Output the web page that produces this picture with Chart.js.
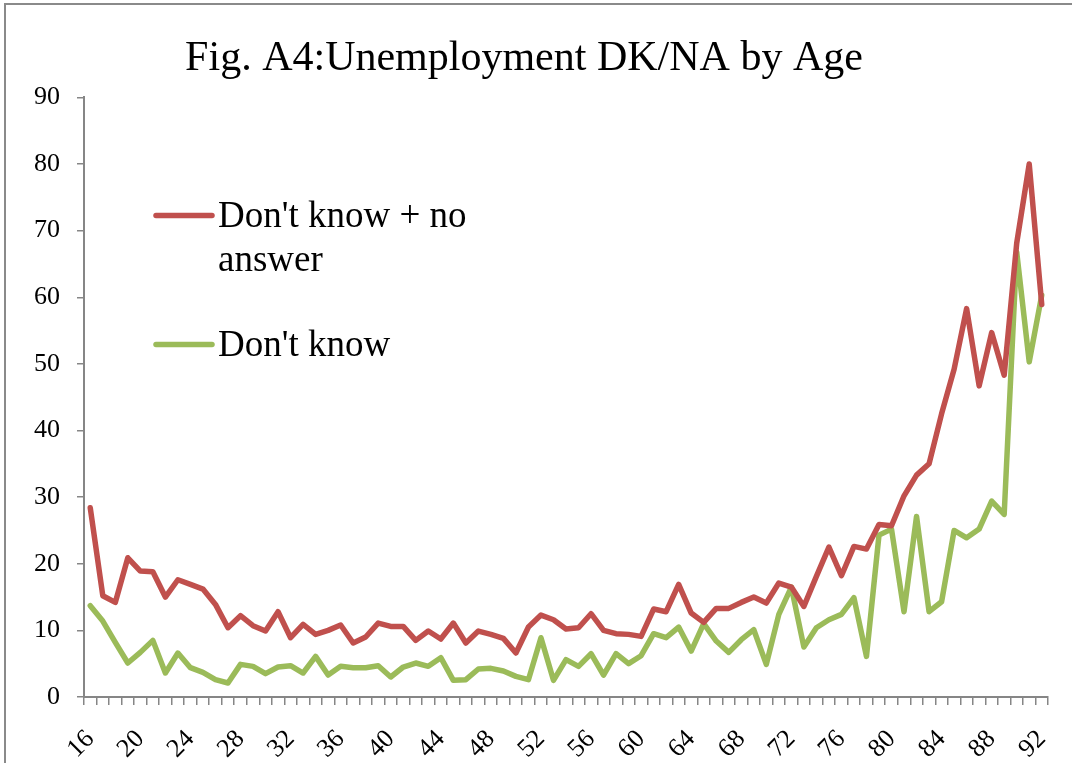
<!DOCTYPE html>
<html>
<head>
<meta charset="utf-8">
<title>Unemployment DK/NA by Age</title>
<script src="https://cdn.jsdelivr.net/npm/chart.js@4/dist/chart.umd.min.js"></script>
<style>
  html, body { margin: 0; padding: 0; background: #ffffff; }
  #wrap { width: 1072px; height: 763px; }
</style>
</head>
<body>
<div id="wrap"><canvas id="chart" width="1072" height="763"></canvas></div>
<script>
// Respondent age (years)
const ages = [16, 17, 18, 19, 20, 21, 22, 23, 24, 25, 26, 27, 28, 29, 30, 31, 32, 33, 34, 35,
  36, 37, 38, 39, 40, 41, 42, 43, 44, 45, 46, 47, 48, 49, 50, 51, 52, 53, 54, 55,
  56, 57, 58, 59, 60, 61, 62, 63, 64, 65, 66, 67, 68, 69, 70, 71, 72, 73, 74, 75,
  76, 77, 78, 79, 80, 81, 82, 83, 84, 85, 86, 87, 88, 89, 90, 91, 92];

// Share (%) answering "don't know" or giving no answer
const dkPlusNa = [28.4, 15.2, 14.2, 20.9, 18.9, 18.8, 15.0, 17.6, 16.9, 16.2,
  13.9, 10.4, 12.2, 10.7, 9.9, 12.8, 8.9, 10.9, 9.4, 10.0,
  10.8, 8.1, 9.0, 11.1, 10.6, 10.6, 8.5, 9.9, 8.7, 11.1,
  8.1, 9.9, 9.4, 8.8, 6.6, 10.5, 12.3, 11.6, 10.2, 10.4,
  12.5, 10.0, 9.5, 9.4, 9.1, 13.2, 12.8, 16.9, 12.6, 11.2,
  13.3, 13.3, 14.2, 15.0, 14.1, 17.1, 16.5, 13.6, 18.1, 22.5,
  18.2, 22.6, 22.2, 25.9, 25.7, 30.2, 33.3, 35.0, 42.5, 49.2,
  58.3, 46.7, 54.7, 48.3, 68.1, 80.0, 58.9];

// Share (%) answering "don't know"
const dkOnly = [13.7, 11.4, 8.2, 5.1, 6.7, 8.5, 3.6, 6.6, 4.4, 3.7,
  2.6, 2.1, 4.9, 4.6, 3.5, 4.5, 4.7, 3.6, 6.1, 3.3,
  4.6, 4.4, 4.4, 4.7, 3.0, 4.5, 5.1, 4.6, 5.9, 2.5,
  2.6, 4.2, 4.3, 3.9, 3.1, 2.6, 8.9, 2.5, 5.6, 4.6,
  6.5, 3.3, 6.5, 5.0, 6.2, 9.5, 8.9, 10.5, 6.9, 11.0,
  8.4, 6.7, 8.6, 10.1, 4.9, 12.4, 16.5, 7.5, 10.4, 11.6,
  12.4, 14.9, 6.1, 24.3, 25.2, 12.8, 27.1, 12.8, 14.3, 25.0,
  23.9, 25.2, 29.4, 27.4, 66.8, 50.3, 60.3];

// Value-axis ticks
const yTicks = [0, 10, 20, 30, 40, 50, 60, 70, 80, 90];

const seriesNames = ["Don't know + no answer", "Don't know"];
const seriesColors = ['#C0504D', '#9BBB59'];

const FONT = '"Liberation Serif", "Times New Roman", serif';
const AXIS_GREY = '#868686';

// White background and the grey frame around the whole chart
const frame = {
  id: 'frame',
  beforeDraw(chart) {
    const ctx = chart.ctx;
    ctx.save();
    ctx.fillStyle = '#ffffff';
    ctx.fillRect(0, 0, chart.width, chart.height);
    ctx.strokeStyle = '#8a8a8a';
    ctx.lineWidth = 2;
    ctx.strokeRect(5, 4, chart.width + 20, chart.height + 20);
    ctx.restore();
  }
};

// Legend drawn inside the plot area, wrapping long labels
const innerLegend = {
  id: 'innerLegend',
  afterDraw(chart, args, opts) {
    const ctx = chart.ctx;
    const area = chart.chartArea;
    ctx.save();
    ctx.font = opts.fontSize + 'px ' + FONT;
    ctx.textBaseline = 'middle';
    ctx.textAlign = 'left';
    chart.data.datasets.forEach((ds, i) => {
      const x0 = area.left + opts.offsetX;
      const y0 = area.top + opts.itemY[i];
      // sample line
      ctx.strokeStyle = ds.borderColor;
      ctx.lineWidth = ds.borderWidth;
      ctx.lineCap = 'round';
      ctx.beginPath();
      ctx.moveTo(x0, y0);
      ctx.lineTo(x0 + opts.sampleWidth, y0);
      ctx.stroke();
      // wrapped label
      const words = ds.label.split(' ');
      const lines = [];
      let cur = '';
      words.forEach(w => {
        const test = cur ? cur + ' ' + w : w;
        if (ctx.measureText(test).width > opts.maxTextWidth && cur) {
          lines.push(cur);
          cur = w;
        } else {
          cur = test;
        }
      });
      if (cur) lines.push(cur);
      ctx.fillStyle = '#000000';
      lines.forEach((ln, k) => {
        ctx.fillText(ln, x0 + opts.sampleWidth + opts.gap, y0 + 2 + k * opts.lineHeight);
      });
    });
    ctx.restore();
  }
};

new Chart(document.getElementById('chart'), {
  type: 'line',
  data: {
    labels: ages,
    datasets: [
      {
        label: seriesNames[0],
        data: dkPlusNa,
        borderColor: seriesColors[0],
        backgroundColor: seriesColors[0],
        borderWidth: 5.5,
        pointRadius: 0,
        tension: 0,
        borderJoinStyle: 'round',
        borderCapStyle: 'round',
        fill: false
      },
      {
        label: seriesNames[1],
        data: dkOnly,
        borderColor: seriesColors[1],
        backgroundColor: seriesColors[1],
        borderWidth: 5.5,
        pointRadius: 0,
        tension: 0,
        borderJoinStyle: 'round',
        borderCapStyle: 'round',
        fill: false
      }
    ]
  },
  options: {
    responsive: false,
    animation: false,
    events: [],
    layout: { padding: { left: 0, right: 24, top: 0, bottom: 0 } },
    plugins: {
      legend: { display: false },
      tooltip: { enabled: false },
      title: {
        display: true,
        text: 'Fig. A4:Unemployment DK/NA by Age',
        color: '#000000',
        font: { family: FONT, size: 42, weight: 'normal' },
        padding: { top: 34, bottom: 13 }
      },
      innerLegend: {
        offsetX: 72,
        itemY: [118, 247],
        sampleWidth: 56,
        gap: 6,
        fontSize: 37,
        lineHeight: 44,
        maxTextWidth: 280
      }
    },
    scales: {
      x: {
        type: 'category',
        offset: true,
        grid: {
          offset: true,
          display: true,
          drawOnChartArea: false,
          drawTicks: true,
          tickLength: 8,
          color: AXIS_GREY,
          lineWidth: 1.5
        },
        border: { display: true, color: AXIS_GREY, width: 2 },
        ticks: {
          autoSkip: false,
          minRotation: 45,
          maxRotation: 45,
          padding: 19,
          color: '#000000',
          font: { family: FONT, size: 26 },
          callback: function (value) {
            const age = this.getLabelForValue(value);
            return age % 4 === 0 ? String(age) : '';
          }
        },
        afterFit(scale) {
          scale.height = 66;
          scale.paddingLeft = 0;
          scale.paddingRight = 0;
        }
      },
      y: {
        min: yTicks[0],
        max: yTicks[yTicks.length - 1],
        grid: {
          display: true,
          drawOnChartArea: false,
          drawTicks: true,
          tickLength: 7,
          color: AXIS_GREY,
          lineWidth: 1.5
        },
        border: { display: true, color: AXIS_GREY, width: 2 },
        afterBuildTicks(scale) {
          scale.ticks = yTicks.map(v => ({ value: v }));
        },
        ticks: {
          padding: 17,
          color: '#000000',
          font: { family: FONT, size: 26 }
        },
        afterFit(scale) { scale.width = 84; }
      }
    }
  },
  plugins: [frame, innerLegend]
});
</script>
</body>
</html>
